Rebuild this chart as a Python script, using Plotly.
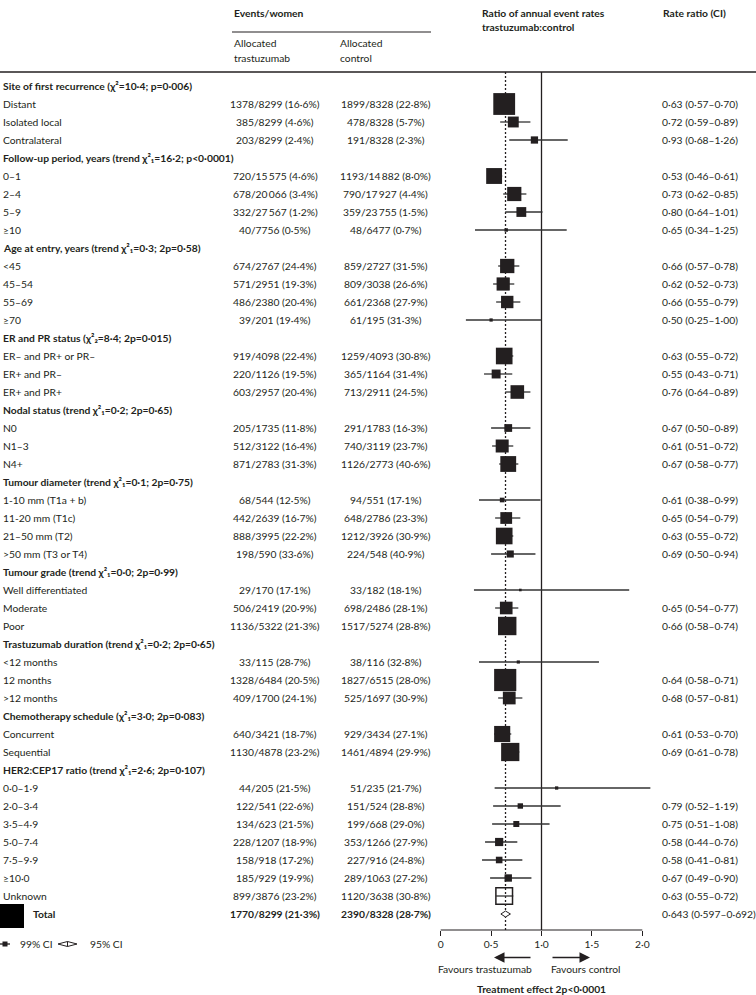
import math
import plotly.graph_objects as go

# ---------------- data ----------------
group_titles = [
    "Site of first recurrence (χ²=10·4; p=0·006)",
    "Follow-up period, years (trend χ²₁=16·2; p<0·0001)",
    "Age at entry, years (trend χ²₁=0·3; 2p=0·58)",
    "ER and PR status (χ²₂=8·4; 2p=0·015)",
    "Nodal status (trend χ²₁=0·2; 2p=0·65)",
    "Tumour diameter (trend χ²₁=0·1; 2p=0·75)",
    "Tumour grade (trend χ²₁=0·0; 2p=0·99)",
    "Trastuzumab duration (trend χ²₁=0·2; 2p=0·65)",
    "Chemotherapy schedule (χ²₁=3·0; 2p=0·083)",
    "HER2:CEP17 ratio (trend χ²₁=2·6; 2p=0·107)",
]
group_sizes = [3, 4, 4, 3, 3, 4, 3, 3, 2, 7]

sub_labels = [
    "Distant", "Isolated local", "Contralateral",
    "0–1", "2–4", "5–9", "≥10",
    "<45", "45–54", "55–69", "≥70",
    "ER– and PR+ or PR–", "ER+ and PR–", "ER+ and PR+",
    "N0", "N1–3", "N4+",
    "1-10 mm (T1a + b)", "11-20 mm (T1c)", "21–50 mm (T2)", ">50 mm (T3 or T4)",
    "Well differentiated", "Moderate", "Poor",
    "<12 months", "12 months", ">12 months",
    "Concurrent", "Sequential",
    "0·0–1·9", "2·0–3·4", "3·5–4·9", "5·0–7·4", "7·5–9·9", "≥10·0", "Unknown",
]
trast_events = [1378, 385, 203, 720, 678, 332, 40, 674, 571, 486, 39, 919, 220, 603,
                205, 512, 871, 68, 442, 888, 198, 29, 506, 1136, 33, 1328, 409, 640, 1130,
                44, 122, 134, 228, 158, 185, 899]
trast_women = [8299, 8299, 8299, 15575, 20066, 27567, 7756, 2767, 2951, 2380, 201, 4098, 1126, 2957,
               1735, 3122, 2783, 544, 2639, 3995, 590, 170, 2419, 5322, 115, 6484, 1700, 3421, 4878,
               205, 541, 623, 1207, 918, 929, 3876]
trast_pct = [16.6, 4.6, 2.4, 4.6, 3.4, 1.2, 0.5, 24.4, 19.3, 20.4, 19.4, 22.4, 19.5, 20.4,
             11.8, 16.4, 31.3, 12.5, 16.7, 22.2, 33.6, 17.1, 20.9, 21.3, 28.7, 20.5, 24.1, 18.7, 23.2,
             21.5, 22.6, 21.5, 18.9, 17.2, 19.9, 23.2]
ctrl_events = [1899, 478, 191, 1193, 790, 359, 48, 859, 809, 661, 61, 1259, 365, 713,
               291, 740, 1126, 94, 648, 1212, 224, 33, 698, 1517, 38, 1827, 525, 929, 1461,
               51, 151, 199, 353, 227, 289, 1120]
ctrl_women = [8328, 8328, 8328, 14882, 17927, 23755, 6477, 2727, 3038, 2368, 195, 4093, 1164, 2911,
              1783, 3119, 2773, 551, 2786, 3926, 548, 182, 2486, 5274, 116, 6515, 1697, 3434, 4894,
              235, 524, 668, 1266, 916, 1063, 3638]
ctrl_pct = [22.8, 5.7, 2.3, 8.0, 4.4, 1.5, 0.7, 31.5, 26.6, 27.9, 31.3, 30.8, 31.4, 24.5,
            16.3, 23.7, 40.6, 17.1, 23.3, 30.9, 40.9, 18.1, 28.1, 28.8, 32.8, 28.0, 30.9, 27.1, 29.9,
            21.7, 28.8, 29.0, 27.9, 24.8, 27.2, 30.8]
rate_ratio = [0.63, 0.72, 0.93, 0.53, 0.73, 0.80, 0.65, 0.66, 0.62, 0.66, 0.50, 0.63, 0.55, 0.76,
              0.67, 0.61, 0.67, 0.61, 0.65, 0.63, 0.69, 0.79, 0.65, 0.66, 0.77, 0.64, 0.68, 0.61, 0.69,
              1.15, 0.79, 0.75, 0.58, 0.58, 0.67, 0.63]
ci_low = [0.57, 0.59, 0.68, 0.46, 0.62, 0.64, 0.34, 0.57, 0.52, 0.55, 0.25, 0.55, 0.43, 0.64,
          0.50, 0.51, 0.58, 0.38, 0.54, 0.55, 0.50, 0.33, 0.54, 0.58, 0.38, 0.58, 0.57, 0.53, 0.61,
          0.535, 0.52, 0.51, 0.44, 0.41, 0.49, 0.55]
ci_high = [0.70, 0.89, 1.26, 0.61, 0.85, 1.01, 1.25, 0.78, 0.73, 0.79, 1.00, 0.72, 0.71, 0.89,
           0.89, 0.72, 0.77, 0.99, 0.79, 0.72, 0.94, 1.87, 0.77, 0.74, 1.57, 0.71, 0.81, 0.70, 0.78,
           2.08, 1.19, 1.08, 0.76, 0.81, 0.90, 0.72]
ratio_printed = [True] * 36
for _i in (21, 24, 29):
    ratio_printed[_i] = False
open_box_label = "Unknown"

total_trast = (1770, 8299, 21.3)
total_ctrl = (2390, 8328, 28.7)
total_ratio, total_low, total_high = 0.643, 0.597, 0.692

x_ticks = [0, 0.5, 1.0, 1.5, 2.0]
x_tick_labels = ["0", "0·5", "1·0", "1·5", "2·0"]

# ---------------- layout helpers ----------------
W, H = 756, 995
INK = "#231f20"
FONT = "Lato"
FS = 10.3
ROW0, ROWH = 86, 18          # pixel y of first row and row pitch
X0PX, UNITPX = 440.7, 100.8  # pixel x of 0 and pixels per unit


def row_at(py):
    return (py - ROW0) / ROWH


def px(p):
    return p / W


def num(n):
    s = str(n)
    if n >= 10000:
        s = s[:-3] + "\u2009" + s[-3:]
    return s


def dec(v, d):
    return f"{v:.{d}f}".replace(".", "·")


def cell(e, w, p):
    return f"{num(e)}/{num(w)} ({dec(p, 1)}%)"


# assign rows
header_rows, sub_rows = [], []
r = 0
for gsize in group_sizes:
    header_rows.append(r)
    r += 1
    for _ in range(gsize):
        sub_rows.append(r)
        r += 1
total_row = r

fig = go.Figure()

# CI lines
lx, ly = [], []
for i in range(len(sub_labels)):
    lx += [ci_low[i], ci_high[i], None]
    ly += [sub_rows[i], sub_rows[i], None]
fig.add_trace(go.Scatter(x=lx, y=ly, mode="lines", line=dict(color="#333333", width=1.3),
                         hoverinfo="skip", cliponaxis=False))

# boxes, size proportional to 1/SE
z99 = 2.576
sizes = []
for i in range(len(sub_labels)):
    se = (math.log(ci_high[i]) - math.log(ci_low[i])) / (2 * z99)
    sizes.append(0.87 / se)

filled = [i for i in range(len(sub_labels)) if sub_labels[i] != open_box_label]
opened = [i for i in range(len(sub_labels)) if sub_labels[i] == open_box_label]
fig.add_trace(go.Scatter(
    x=[rate_ratio[i] for i in filled], y=[sub_rows[i] for i in filled], mode="markers",
    marker=dict(symbol="square", size=[sizes[i] for i in filled], color=INK, opacity=1,
                line=dict(width=0)),
    cliponaxis=False, hoverinfo="skip"))
fig.add_trace(go.Scatter(
    x=[rate_ratio[i] for i in opened], y=[sub_rows[i] for i in opened], mode="markers",
    marker=dict(symbol="square-open", size=[sizes[i] for i in opened], color=INK, opacity=1,
                line=dict(width=1.5, color=INK)),
    cliponaxis=False, hoverinfo="skip"))

# total diamond (95% CI)
dh = 3.0 / ROWH
fig.add_trace(go.Scatter(
    x=[total_low, total_ratio, total_high, total_ratio, total_low],
    y=[total_row, total_row - dh, total_row, total_row + dh, total_row],
    mode="lines", fill="toself", fillcolor="white", line=dict(color=INK, width=1),
    hoverinfo="skip", cliponaxis=False))

shapes = []
# reference lines
shapes.append(dict(type="line", xref="x", yref="y", x0=1, x1=1, y0=row_at(72), y1=row_at(930),
                   line=dict(color=INK, width=1.3), layer="below"))
shapes.append(dict(type="line", xref="x", yref="y", x0=total_ratio, x1=total_ratio,
                   y0=row_at(72), y1=row_at(930), line=dict(color=INK, width=1.3, dash="2px,2px"),
                   layer="below"))
# axis line
shapes.append(dict(type="line", xref="x", yref="y", x0=x_ticks[0], x1=x_ticks[-1],
                   y0=row_at(930), y1=row_at(930), line=dict(color=INK, width=1.2)))
# header rules
shapes.append(dict(type="line", xref="paper", yref="y", x0=0, x1=1, y0=row_at(72), y1=row_at(72),
                   line=dict(color=INK, width=1.5)))
shapes.append(dict(type="line", xref="paper", yref="y", x0=px(232), x1=px(431), y0=row_at(32),
                   y1=row_at(32), line=dict(color=INK, width=1.2)))
# "Total" key square
shapes.append(dict(type="rect", xref="paper", yref="y", x0=0, x1=px(24), y0=row_at(904),
                   y1=row_at(928), fillcolor="black", line=dict(width=0)))
# legend glyphs
ly_ = row_at(944)
shapes.append(dict(type="line", xref="paper", yref="y", x0=0, x1=px(10), y0=ly_, y1=ly_,
                   line=dict(color=INK, width=1.3)))
shapes.append(dict(type="rect", xref="paper", yref="y", x0=px(2.5), x1=px(7.5), y0=ly_ - 2.5 / ROWH,
                   y1=ly_ + 2.5 / ROWH, fillcolor=INK, line=dict(width=0)))
shapes.append(dict(type="path", xref="paper", yref="y",
                   path=f"M {px(58)},{ly_} L {px(67.5)},{ly_ - 2.5 / ROWH} L {px(77)},{ly_} "
                        f"L {px(67.5)},{ly_ + 2.5 / ROWH} Z",
                   fillcolor="white", line=dict(color=INK, width=1)))
shapes.append(dict(type="line", xref="paper", yref="y", x0=px(67.5), x1=px(67.5),
                   y0=ly_ - 2.5 / ROWH, y1=ly_ + 2.5 / ROWH, line=dict(color=INK, width=1)))

ann = []


def txt(x, y, s, anchor="left", bold=False, size=FS):
    ann.append(dict(x=x, y=y, xref="paper", yref="y", text=(f"<b>{s}</b>" if bold else s),
                    showarrow=False, xanchor=anchor, yanchor="middle",
                    font=dict(family=FONT, size=size, color=INK)))


# column headers
txt(px(232), row_at(13), "Events/women", bold=True)
txt(px(232), row_at(43), "Allocated")
txt(px(232), row_at(58), "trastuzumab")
txt(px(338), row_at(43), "Allocated")
txt(px(338), row_at(58), "control")
txt(px(480), row_at(13), "Ratio of annual event rates", bold=True)
txt(px(480), row_at(27), "trastuzumab:control", bold=True)
txt(px(661), row_at(13), "Rate ratio (CI)", bold=True)

for gi, title in enumerate(group_titles):
    txt(px(1), header_rows[gi], title, bold=True)

for i, lab in enumerate(sub_labels):
    rr = sub_rows[i]
    txt(px(1), rr, lab)
    txt(px(275), rr, cell(trast_events[i], trast_women[i], trast_pct[i]), anchor="center")
    txt(px(385.5), rr, cell(ctrl_events[i], ctrl_women[i], ctrl_pct[i]), anchor="center")
    if ratio_printed[i]:
        txt(px(660), rr, f"{dec(rate_ratio[i], 2)} ({dec(ci_low[i], 2)}–{dec(ci_high[i], 2)})")

txt(px(31), total_row, "Total", bold=True)
txt(px(275), total_row, cell(*total_trast), anchor="center", bold=True)
txt(px(385.5), total_row, cell(*total_ctrl), anchor="center", bold=True)
txt(px(660), total_row, f"{dec(total_ratio, 3)} ({dec(total_low, 3)}–{dec(total_high, 3)})")

# legend text
txt(px(18), ly_, "99% CI")
txt(px(88), ly_, "95% CI")

# arrows and captions
ar = row_at(957.5)
xa = lambda p: (p - X0PX) / UNITPX
ann.append(dict(x=xa(494), y=ar, ax=xa(532), ay=ar, xref="x", yref="y", axref="x", ayref="y",
                text="", showarrow=True, arrowhead=2, arrowsize=1.4, arrowwidth=1.5,
                arrowcolor=INK, standoff=0, startstandoff=0))
ann.append(dict(x=xa(590), y=ar, ax=xa(551), ay=ar, xref="x", yref="y", axref="x", ayref="y",
                text="", showarrow=True, arrowhead=2, arrowsize=1.4, arrowwidth=1.5,
                arrowcolor=INK, standoff=0, startstandoff=0))
txt(px(485), row_at(969), "Favours trastuzumab", anchor="center")
txt(px(586), row_at(969), "Favours control", anchor="center")
txt(px(541.5), row_at(989), "Treatment effect 2p<0·0001", anchor="center", bold=True)

fig.update_layout(
    width=W, height=H, margin=dict(l=0, r=0, t=0, b=0),
    paper_bgcolor="white", plot_bgcolor="white", showlegend=False,
    font=dict(family=FONT, size=FS, color=INK),
    shapes=shapes, annotations=ann,
    xaxis=dict(domain=[0, 1], range=[(0 - X0PX) / UNITPX, (W - X0PX) / UNITPX],
               showgrid=False, zeroline=False, showline=False,
               tickmode="array", tickvals=x_ticks, ticktext=x_tick_labels,
               ticks="outside", ticklen=5, tickwidth=1.2, tickcolor=INK,
               tickfont=dict(family=FONT, size=FS, color=INK),
               anchor="free", position=(H - 930) / H, fixedrange=True),
    yaxis=dict(domain=[0, 1], range=[row_at(H), row_at(0)], visible=False, fixedrange=True),
)

fig.write_html("out.html", config={"displayModeBar": False},
               post_script="document.body.style.margin='0px';document.body.style.overflow='hidden';")
